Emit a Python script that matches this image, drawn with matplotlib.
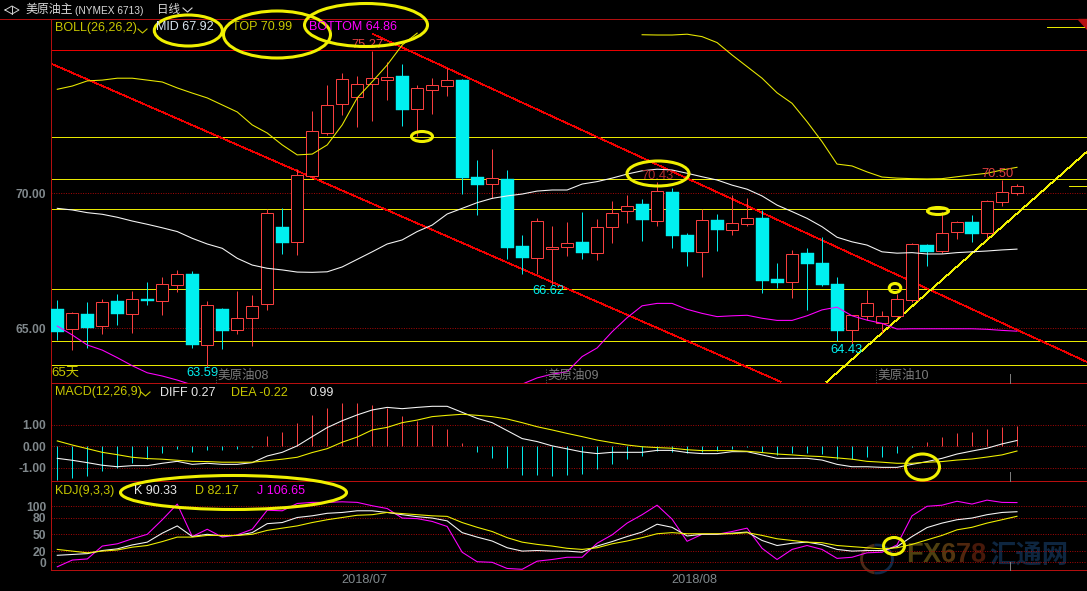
import numpy as np
import matplotlib
matplotlib.use("Agg")
import matplotlib.pyplot as plt
from matplotlib.patches import Ellipse, Polygon, Arc

plt.rcParams['font.family'] = ['Liberation Sans', 'Noto Sans CJK SC', 'DejaVu Sans']

W, H = 1087, 591
RED = '#ff4040'
CYAN = '#00f0f0'
FRAME = '#b81010'
YEL = '#f0f000'
MAG = '#ff00ff'
GRAY = '#80888c'
CIRC = '#f0f000'
LW = 0.7    # just under one pixel at dpi 100, so snapping keeps it on one row
JAG = 0.55  # for the straight drawn lines, not smoothed

# daily candles, 65 days
opens = [65.72, 64.97, 65.54, 65.08, 66.01, 65.55, 66.09, 66.03, 66.62, 67.02, 64.40, 65.72, 64.96,
         65.38, 65.92, 68.76, 68.21, 70.66, 72.25, 73.30, 73.59, 74.07, 74.21, 74.35, 73.14, 73.84,
         73.99, 74.20, 70.61, 70.36, 70.53, 68.06, 67.61, 67.96, 68.03, 68.20, 67.81, 68.77, 69.36,
         69.61, 68.99, 70.06, 68.46, 67.84, 69.02, 68.66, 68.88, 69.09, 66.83, 66.73, 67.80, 67.43,
         66.65, 64.94, 65.47, 65.21, 65.45, 66.07, 68.08, 67.88, 68.56, 68.94, 68.55, 69.70, 70.03]
closes = [64.88, 65.56, 65.03, 65.97, 65.55, 66.08, 66.03, 66.64, 67.01, 64.39, 65.86, 64.91, 65.38,
          65.82, 69.27, 68.17, 70.67, 72.30, 73.27, 74.23, 74.04, 74.27, 74.30, 73.09, 73.90, 74.01,
          74.19, 70.57, 70.31, 70.56, 67.98, 67.61, 68.97, 68.01, 68.16, 67.80, 68.75, 69.27, 69.53,
          69.02, 70.08, 68.43, 67.83, 69.01, 68.65, 68.90, 69.08, 66.76, 66.69, 67.75, 67.39, 66.61,
          64.91, 65.49, 65.93, 65.45, 66.08, 68.12, 67.83, 68.53, 68.93, 68.50, 69.71, 70.04, 70.27]
highs = [66.06, 65.61, 65.98, 66.09, 66.28, 66.39, 66.72, 66.91, 67.17, 67.13, 66.02, 65.76, 66.39,
         66.24, 69.41, 69.46, 70.90, 73.06, 74.02, 74.46, 74.35, 75.27, 74.88, 74.80, 74.01, 74.28,
         74.65, 74.23, 71.24, 71.65, 70.87, 68.46, 69.09, 68.80, 68.94, 69.31, 69.06, 69.72, 69.94,
         69.80, 70.43, 70.20, 68.54, 69.43, 69.24, 69.94, 69.83, 69.39, 67.43, 67.91, 67.98, 68.39,
         66.91, 65.50, 66.43, 65.65, 66.28, 68.17, 68.13, 69.31, 68.98, 69.20, 69.76, 70.50, 70.35]
lows = [64.57, 64.20, 64.29, 64.80, 65.13, 64.83, 65.87, 65.50, 66.35, 64.28, 63.59, 64.24, 64.80,
        64.35, 65.69, 67.76, 67.72, 70.61, 72.17, 72.91, 72.47, 72.70, 73.47, 72.50, 72.13, 72.94,
        73.61, 69.98, 69.20, 69.83, 67.57, 67.02, 67.02, 66.62, 67.69, 67.57, 67.54, 68.17, 68.91,
        68.24, 68.80, 67.98, 67.31, 66.91, 67.87, 68.46, 68.80, 66.31, 66.50, 66.13, 65.69, 66.57,
        64.54, 64.43, 65.31, 64.83, 65.43, 65.98, 67.31, 67.80, 68.31, 68.20, 68.35, 69.54, 69.94]

# BOLL(26,26,2), nan where the band runs out of the window
boll_top = [73.86, 73.98, 74.17, 74.20, 74.27, 74.27, 74.20, 74.13, 73.91, 73.72, 73.54, 73.28, 73.02,
            72.54, 72.24, 71.80, 71.43, 71.46, 71.80, 72.54, 73.54, 74.14, 74.76, 75.50, 75.94,
            np.nan, np.nan, np.nan, np.nan, np.nan, np.nan, np.nan, np.nan, np.nan, np.nan, np.nan,
            np.nan, np.nan, np.nan, 75.88, 75.87, 75.87, 75.90, 75.81, 75.59, 75.13, 74.70, 74.27,
            73.73, 73.34, 72.66, 71.92, 71.09, 71.02, 70.80, 70.61, 70.57, 70.55, 70.54, 70.55,
            70.62, 70.69, 70.75, 70.87, 70.97]
boll_mid = [69.45, 69.39, 69.29, 69.23, 69.12, 68.98, 68.86, 68.73, 68.59, 68.34, 68.13, 67.97, 67.60,
            67.35, 67.23, 67.17, 67.09, 67.08, 67.10, 67.28, 67.56, 67.84, 68.13, 68.28, 68.59,
            68.83, 69.24, 69.45, 69.66, 69.82, 69.91, 69.98, 70.09, 70.13, 70.13, 70.35, 70.44,
            70.57, 70.72, 70.84, 70.90, 70.87, 70.75, 70.62, 70.50, 70.31, 70.16, 69.91, 69.57,
            69.33, 69.08, 68.77, 68.38, 68.21, 68.09, 67.84, 67.79, 67.81, 67.76, 67.76, 67.81,
            67.84, 67.87, 67.91, 67.94]
boll_bottom = [65.09, 64.76, 64.39, 64.20, 63.92, 63.62, 63.36, 63.24, 63.09, 62.91, np.nan, np.nan,
               np.nan, np.nan, np.nan, np.nan, np.nan, np.nan, np.nan, np.nan, np.nan, np.nan, np.nan,
               np.nan, np.nan, np.nan, np.nan, np.nan, np.nan, np.nan, np.nan, 62.94, 63.17, 63.31,
               63.40, 63.96, 64.28, 64.88, 65.40, 65.84, 65.93, 65.93, 65.71, 65.56, 65.44, 65.47,
               65.49, 65.38, 65.30, 65.30, 65.47, 65.69, 65.79, 65.47, 65.31, 65.19, 64.98, 64.99,
               64.99, 64.99, 64.99, 64.99, 64.97, 64.93, 64.90]

# MACD(12,26,9)
macd_hist = [-1.55, -1.46, -1.38, -1.13, -0.99, -0.78, -0.59, -0.31, -0.12, -0.25, -0.16, -0.16, -0.12,
             -0.01, 0.48, 0.68, 1.09, 1.46, 1.78, 2.02, 2.02, 1.92, 1.78, 1.41, 1.18, 0.99, 0.79, 0.16,
             -0.25, -0.53, -0.99, -1.33, -1.33, -1.36, -1.33, -1.27, -1.05, -0.81, -0.57, -0.43, -0.20,
             -0.25, -0.33, -0.25, -0.20, -0.12, -0.03, -0.25, -0.39, -0.31, -0.31, -0.34, -0.57, -0.60,
             -0.50, -0.50, -0.31, -0.02, 0.20, 0.43, 0.62, 0.67, 0.79, 0.90, 0.95]
macd_diff = [-0.56, -0.65, -0.76, -0.88, -0.95, -0.90, -0.90, -0.79, -0.70, -0.84, -0.79, -0.84, -0.84,
             -0.76, -0.45, -0.28, 0.02, 0.45, 0.87, 1.19, 1.46, 1.69, 1.81, 1.75, 1.81, 1.86, 1.86,
             1.58, 1.30, 1.10, 0.73, 0.36, 0.22, 0.02, -0.12, -0.26, -0.34, -0.28, -0.28, -0.28, -0.19,
             -0.19, -0.29, -0.34, -0.34, -0.25, -0.25, -0.40, -0.56, -0.56, -0.56, -0.64, -0.84, -0.95,
             -0.95, -0.98, -0.98, -0.84, -0.71, -0.56, -0.36, -0.22, -0.09, 0.11, 0.27]
macd_dea = [0.25, 0.06, -0.11, -0.28, -0.39, -0.51, -0.57, -0.60, -0.65, -0.70, -0.71, -0.74, -0.74,
            -0.74, -0.67, -0.60, -0.51, -0.29, -0.11, 0.19, 0.43, 0.76, 0.88, 1.10, 1.22, 1.38, 1.44,
            1.49, 1.44, 1.38, 1.27, 1.10, 0.91, 0.76, 0.60, 0.45, 0.29, 0.17, 0.06, -0.02, -0.06,
            -0.09, -0.16, -0.20, -0.20, -0.20, -0.23, -0.29, -0.36, -0.40, -0.45, -0.48, -0.54, -0.60,
            -0.70, -0.74, -0.79, -0.79, -0.74, -0.71, -0.64, -0.59, -0.50, -0.40, -0.22]

# KDJ(9,3,3)
kdj_k = [12.5, 14, 15.5, 21, 24, 31, 36, 52, 65, 46, 50, 47, 48, 53, 69, 71, 80, 83, 87.5, 89, 92, 92,
         89, 85, 81.5, 79, 74, 53, 45, 38, 26, 20, 21, 20, 20, 18, 29, 37, 46, 54, 68, 62.5, 47, 50, 50,
         52, 54, 39, 30, 34, 36, 31.5, 23, 20, 21, 21, 28, 46, 62, 70, 76, 79, 85, 89, 90.33]
kdj_d = [23, 20, 17, 20, 22, 27, 30, 37, 45, 45, 48, 48, 48, 50, 57, 61, 65, 71, 76, 80, 84, 85, 89, 87,
         85, 83, 82, 71, 62.5, 55, 44, 36, 32, 29, 25, 23, 26, 33, 38, 44, 51, 53, 51, 51, 51, 51, 53,
         48, 42, 39, 36, 35, 30, 28, 26, 24, 26, 32, 40, 48, 58, 62.5, 70, 76, 82.17]
kdj_j = [-8, 4, 6, 29, 33, 42, 50, 76, 104, 46, 59, 45, 49, 59, 93, 92, 105, 107, 107, 108, 107, 101, 96,
         79, 78, 73, 64, 18, 1, 0, -11, -12.5, 2, 5, 9, 9, 34, 49, 70, 85, 102, 77, 37.5, 50, 50, 55, 61,
         25, 5, 23, 30, 23, 7, 9, 17, 18, 31, 83, 100, 102, 109, 104, 111, 107, 106.65]

# drawn levels and trend lines (price)
yellow_levels = [72.11, 70.52, 69.41, 66.48, 64.52, 63.63]
red_level = 75.30
red_line_1 = ([-0.45, 48.23], [74.82, 63.03])
red_line_2 = ([21.03, 68.67], [75.91, 63.76])
yellow_line = ([51.3, 68.67], [63.02, 71.55])
yellow_stub = ([67.5, 68.67], [70.27, 70.27])

price_ticks = [65, 70]
price_labels = ['65.00', '70.00']
macd_ticks = [-1, 0, 1]
macd_labels = ['-1.00', '0.00', '1.00']
kdj_ticks = [0, 20, 50, 80, 100]
kdj_labels = ['0', '20', '50', '80', '100']
month_pos = [20.5, 42.5]
month_labels = ['2018/07', '2018/08']

days = np.arange(len(opens))
XLIM = (-0.453, 68.67)


def panel(top, bottom, zorder=2):
    ax = fig.add_axes([50.5 / W, 1 - bottom / H, 1 - 50.5 / W, (bottom - top) / H], zorder=zorder)
    ax.set_facecolor('none')
    ax.set_xlim(*XLIM)
    ax.set_xticks([])
    ax.spines['right'].set_visible(False)
    for s in ['left', 'top', 'bottom']:
        ax.spines[s].set_color(FRAME)
        ax.spines[s].set_linewidth(LW)
    ax.tick_params(axis='y', length=0, pad=3, labelsize=8.7, labelcolor=GRAY)
    return ax


def set_ticks(ax, ticks, labels, size=8.7):
    ax.set_yticks(ticks)
    ax.set_yticklabels(labels, fontweight='bold', fontsize=size)
    ax.grid(axis='y', linestyle=(0, (1, 1.5)), color='#a80808', linewidth=LW)
    ax.set_axisbelow(True)


def jag(ax, x, y, color, zorder):
    ax.plot(x, y, color=color, lw=JAG, antialiased=False, zorder=zorder)


def curve(ax, y, color, zorder):
    ax.plot(days, y, color=color, lw=0.78, zorder=zorder)


fig = plt.figure(figsize=(W / 100, H / 100), dpi=100, facecolor='black')

# watermark sits under everything
back = fig.add_axes([0, 0, 1, 1], zorder=0)
back.set_xlim(0, W)
back.set_ylim(H, 0)
back.axis('off')
for ch, x, col in zip('FX678', [906, 922.5, 940.5, 955.5, 970.5],
                      ['#4e4010', '#4e4010', '#523610', '#50260e', '#48190a']):
    back.text(x, 555.5, ch, color=col, fontsize=19.5, fontweight='bold', ha='left', va='center')
back.text(1029, 556, '汇通网', color='#0e2640', fontsize=19, fontweight='bold', ha='center', va='center')
back.add_patch(Arc((877, 559), 31, 28, theta1=100, theta2=260, color='#4a2a18', lw=2))
back.add_patch(Arc((877, 559), 31, 28, theta1=-100, theta2=100, color='#102a48', lw=2))

# price panel
ax = panel(19.3, 383.3)
ax.set_ylim(70 + (193.5 - 383.3) / 27, 70 + (193.5 - 19.3) / 27)
set_ticks(ax, price_ticks, price_labels)

for lev in yellow_levels:
    ax.axhline(lev, color=YEL, lw=LW, zorder=1.5)
ax.axhline(red_level, color='#f00000', lw=LW, zorder=1.5)
jag(ax, *red_line_1, '#f00000', 1.6)
jag(ax, *red_line_2, '#f00000', 1.6)
jag(ax, *yellow_line, YEL, 1.6)
ax.plot(*yellow_stub, color=YEL, lw=LW, zorder=1.6)

up = np.array(closes) >= np.array(opens)
colors = [RED if u else CYAN for u in up]
ax.vlines(days, lows, highs, colors=colors, lw=LW, zorder=3)
bottoms = np.minimum(opens, closes)
heights = np.abs(np.array(closes) - np.array(opens))
ax.bar(days[up], heights[up], bottom=bottoms[up], width=0.8, facecolor='black', edgecolor=RED, lw=LW, zorder=4)
ax.bar(days[~up], heights[~up], bottom=bottoms[~up], width=0.87, facecolor=CYAN, edgecolor=CYAN, lw=0.3, zorder=4)

curve(ax, boll_top, '#e8e800', 5)
curve(ax, boll_mid, '#f4f4f4', 5)
curve(ax, boll_bottom, MAG, 5)

ax.text(20.7, 75.27, '75.27', color='#e04040', fontsize=9.3, ha='center', va='bottom', zorder=6)
ax.text(40, 70.43, '70.43', color='#b02c2c', fontsize=9.3, ha='center', va='bottom', zorder=6)
ax.text(62.7, 70.50, '70.50', color='#e04040', fontsize=9.3, ha='center', va='bottom', zorder=6)
ax.text(9.7, 63.59, '63.59', color=CYAN, fontsize=9.3, ha='center', va='top', zorder=6)
ax.text(33.8, 66.62, '66.62', color=CYAN, fontsize=9.3, ha='right', va='top', zorder=6)
ax.text(53.7, 64.43, '64.43', color=CYAN, fontsize=9.3, ha='right', va='top', zorder=6)

# MACD panel
ax2 = panel(383.3, 481.3)
ax2.set_ylim((446.3 - 481.3) / 21.5, (446.3 - 383.3) / 21.5)
set_ticks(ax2, macd_ticks, macd_labels)
hist = np.array(macd_hist)
ax2.vlines(days, 0, hist, colors=[RED if v > 0 else CYAN for v in hist], lw=LW, zorder=3)
curve(ax2, macd_diff, '#f4f4f4', 4)
curve(ax2, macd_dea, YEL, 4)

# KDJ panel
ax3 = panel(481.3, 570.3)
ax3.set_ylim((562.3 - 570.3) / 0.56, (562.3 - 481.3) / 0.56)
set_ticks(ax3, kdj_ticks, kdj_labels)
curve(ax3, kdj_j, MAG, 3)
curve(ax3, kdj_k, '#f4f4f4', 4)
curve(ax3, kdj_d, YEL, 4)
ax3.set_xticks(month_pos)
ax3.set_xticklabels(month_labels, fontsize=9.2, color=GRAY)
ax3.tick_params(axis='x', length=0, pad=3)

# everything tied to the screen rather than to a value
top = fig.add_axes([0, 0, 1, 1], zorder=5)
top.set_xlim(0, W)
top.set_ylim(H, 0)
top.axis('off')
top.patch.set_visible(False)


def label(x, y, s, color, size=9):
    top.text(x, y, s, color=color, fontsize=size, ha='left', va='center')


def chevron(x, y, color):
    top.plot([x, x + 4.5, x + 9], [y, y + 4, y], color=color, lw=0.8)


top.plot([0, 50], [19.3, 19.3], color=FRAME, lw=LW)
top.plot([5, 12, 19, 12, 5], [10, 6, 10, 14, 10], color='#d0d0d0', lw=LW)
top.plot([12, 12], [6, 14], color='#d0d0d0', lw=LW)
label(25, 10.5, '美原油主', '#d8d8d8', 8.6)
label(75, 10.5, '(NYMEX 6713)', '#d8d8d8', 7.3)
label(157, 10.5, '日线', '#d8d8d8', 8.3)
chevron(183, 8, '#d8d8d8')

label(55, 27.5, 'BOLL(26,26,2)', '#c8c800')
chevron(138, 29, '#c8c800')
label(156, 27.5, 'MID 67.92', '#d8e4f0')
label(232, 27.5, 'TOP 70.99', '#c8c800')
label(309, 27.5, 'BOTTOM 64.86', MAG)

label(55, 392.5, 'MACD(12,26,9)', '#c8c800')
chevron(141, 392, '#c8c800')
label(160, 392.5, 'DIFF 0.27', '#e8e8e8')
label(231, 392.5, 'DEA -0.22', '#c8c800')
label(309, 392.5, '0.99', '#e8e8e8')

label(55, 491, 'KDJ(9,3,3)', '#c8c800')
label(134, 491, 'K 90.33', '#e8e8e8')
label(195, 491, 'D 82.17', '#c8c800')
label(257, 491, 'J 106.65', MAG)

label(51, 373, '65天', '#c8c800', 9.5)
for x, s in [(217, '美原油08'), (547, '美原油09'), (877, '美原油10')]:
    label(x, 376, s, '#7a7a7a', 9)
    top.plot([x - 1, x - 1], [369, 383], color='#606060', lw=LW, ls=':')

# cursor remnants and corner mark
for y0, y1 in [(374, 383), (472, 481), (562, 570)]:
    top.plot([1010, 1010], [y0, y1], color='#808080', lw=LW)
top.plot([1047, 1084], [26.5, 26.5], color=YEL, lw=LW)
top.add_patch(Polygon([(1078, 19), (1087, 19), (1087, 29)], color=FRAME))

# hand drawn yellow rings
rings = [(188.3, 30.5, 71, 34), (277, 34.5, 110, 50), (366, 25, 126, 46), (422, 136.5, 24, 13),
         (658, 173.5, 65, 28), (938, 211, 24, 10), (895, 288, 14.5, 12), (922.5, 467, 37, 29),
         (233.5, 492.5, 229, 37), (894, 546, 24, 20)]
for cx, cy, w, h in rings:
    top.add_patch(Ellipse((cx, cy), w - 3, h - 3, fill=False, edgecolor=CIRC, lw=2.2))

fig.savefig('out.png', dpi=100, facecolor='black')
